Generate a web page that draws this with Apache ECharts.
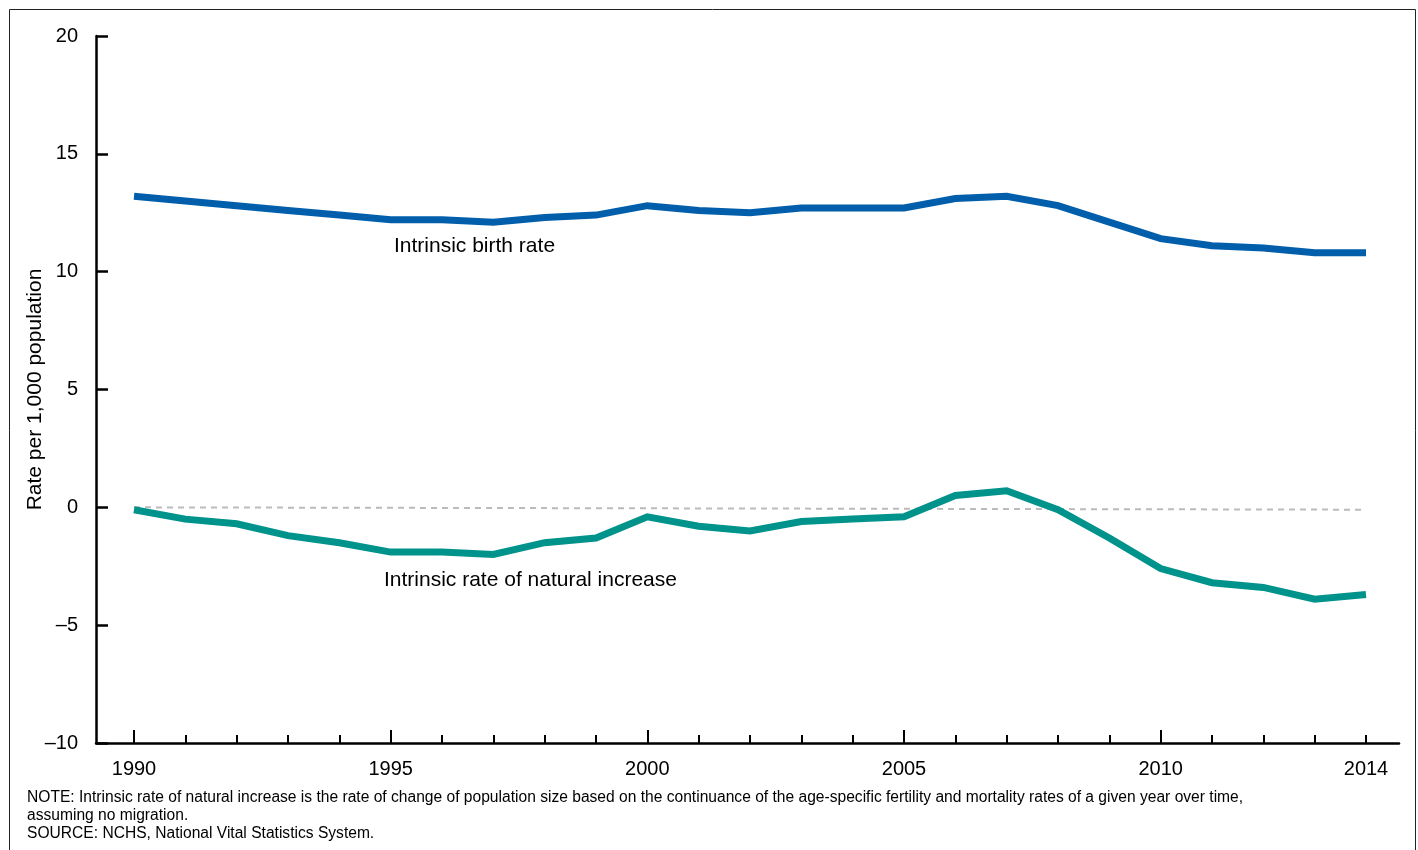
<!DOCTYPE html>
<html>
<head>
<meta charset="utf-8">
<script src="https://cdn.jsdelivr.net/npm/echarts@6/dist/echarts.min.js"></script>
<style>
html,body{margin:0;padding:0;background:#fff;}
#chart{width:1418px;height:850px;}
</style>
</head>
<body>
<div id="chart"></div>
<script>
// ---- data ----
const years = [1990,1991,1992,1993,1994,1995,1996,1997,1998,1999,2000,2001,2002,2003,2004,2005,2006,2007,2008,2009,2010,2011,2012,2013,2014];
const birthRate = [13.2,13.0,12.8,12.6,12.4,12.2,12.2,12.1,12.3,12.4,12.8,12.6,12.5,12.7,12.7,12.7,13.1,13.2,12.8,12.1,11.4,11.1,11.0,10.8,10.8];
const naturalIncrease = [-0.1,-0.5,-0.7,-1.2,-1.5,-1.9,-1.9,-2.0,-1.5,-1.3,-0.4,-0.8,-1.0,-0.6,-0.5,-0.4,0.5,0.7,-0.1,-1.3,-2.6,-3.2,-3.4,-3.9,-3.7];
const refYears = [1990, 2014];
const refValues = [0, -0.1];
const xMajorTicks = [1990,1995,2000,2005,2010];
const xTickLabels = [1990,1995,2000,2005,2010,2014];
const yTicks = [-10,-5,0,5,10,15,20];
const yAxisName = 'Rate per 1,000 population';
const seriesNames = ['Intrinsic birth rate','Intrinsic rate of natural increase'];
const noteLines = [
  'NOTE: Intrinsic rate of natural increase is the rate of change of population size based on the continuance of the age-specific fertility and mortality rates of a given year over time,',
  'assuming no migration.',
  'SOURCE: NCHS, National Vital Statistics System.'
];

const FONT = '"Liberation Sans", Arial, Helvetica, sans-serif';
const chart = echarts.init(document.getElementById('chart'), null, {renderer:'canvas'});

const pair = (xs, ys) => xs.map((x,i)=>[x, ys[i]]);

const option = {
  backgroundColor:'#ffffff',
  animation:false,
  textStyle:{fontFamily:FONT},
  grid:[
    {left:134, right:52, top:36, bottom:107, containLabel:false},
    {left:96, right:19, top:36, bottom:107, containLabel:false}
  ],
  xAxis:[
    {gridIndex:0, type:'value', min:1990, max:2014, interval:1, position:'bottom',
     axisLine:{show:false, onZero:false}, splitLine:{show:false},
     axisTick:{show:true, inside:true, length:8, lineStyle:{color:'#000', width:2}},
     axisLabel:{show:false}},
    {gridIndex:0, type:'value', min:1990, max:2014, position:'bottom',
     axisLine:{show:false, onZero:false}, splitLine:{show:false},
     axisTick:{show:true, inside:true, length:13, customValues:xMajorTicks, lineStyle:{color:'#000', width:2}},
     axisLabel:{show:true, customValues:xTickLabels, fontSize:20, color:'#000', margin:16, fontFamily:FONT, formatter:v=>String(v)}},
    {gridIndex:1, type:'value', min:0, max:1, position:'bottom',
     axisLine:{show:true, onZero:false, lineStyle:{color:'#000', width:2.5}},
     axisTick:{show:false}, axisLabel:{show:false}, splitLine:{show:false}}
  ],
  yAxis:[
    {gridIndex:0, type:'value', min:-10, max:20, show:false},
    {gridIndex:1, type:'value', min:-10, max:20, interval:5, position:'left',
     axisLine:{show:true, onZero:false, lineStyle:{color:'#000', width:2.5}},
     axisTick:{show:true, inside:true, length:12, customValues:yTicks, lineStyle:{color:'#000', width:2.5}},
     splitLine:{show:false},
     axisLabel:{fontSize:20, color:'#000', margin:18, fontFamily:FONT,
       customValues:yTicks,
       formatter:v=> v<0 ? '\u2013'+Math.abs(v) : String(v)},
     name:yAxisName, nameLocation:'middle', nameGap:50, nameRotate:90, nameMoveOverlap:false,
     nameTextStyle:{fontSize:21, color:'#000', fontFamily:FONT}}
  ],
  series:[
    {type:'line', name:'ref', xAxisIndex:0, yAxisIndex:0, data:pair(refYears, refValues),
     symbol:'none', lineStyle:{color:'#bbbbbb', width:2, type:[6,5]}, z:1},
    {type:'line', name:seriesNames[0], xAxisIndex:0, yAxisIndex:0, data:pair(years, birthRate),
     symbol:'none', lineStyle:{color:'#005eaa', width:7, cap:'butt', join:'miter'}, z:3},
    {type:'line', name:seriesNames[1], xAxisIndex:0, yAxisIndex:0, data:pair(years, naturalIncrease),
     symbol:'none', lineStyle:{color:'#00938b', width:7, cap:'butt', join:'miter'}, z:3}
  ],
  graphic:[
    {type:'rect', shape:{x:9.5, y:9.5, width:1406, height:860}, style:{fill:'none', stroke:'#222', lineWidth:1}, silent:true},
    {type:'text', left:394, top:236, style:{text:seriesNames[0], font:'21px '+FONT, fill:'#000'}},
    {type:'text', left:384, top:570, style:{text:seriesNames[1], font:'21px '+FONT, fill:'#000'}},
    {type:'text', left:27, top:790, style:{text:noteLines[0], font:'15.6px '+FONT, fill:'#000'}},
    {type:'text', left:27, top:808, style:{text:noteLines[1], font:'15.6px '+FONT, fill:'#000'}},
    {type:'text', left:27, top:826, style:{text:noteLines[2], font:'15.6px '+FONT, fill:'#000'}}
  ]
};
chart.setOption(option);
</script>
</body>
</html>
